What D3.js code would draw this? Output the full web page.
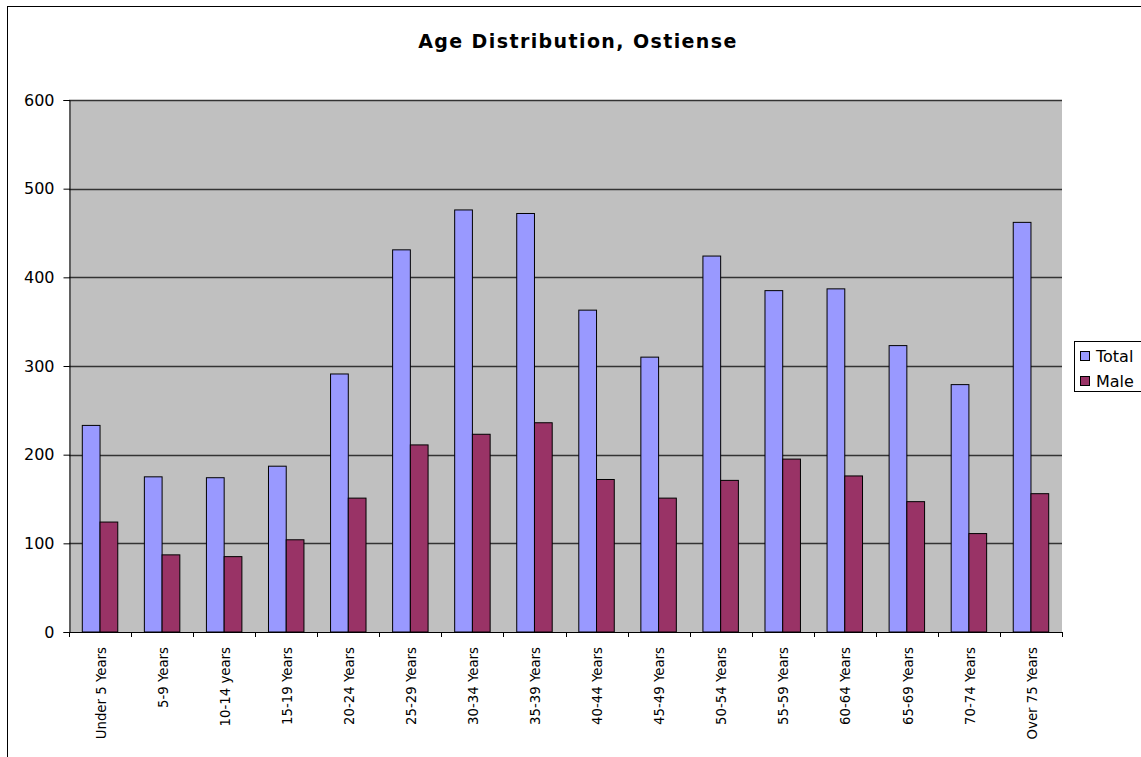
<!DOCTYPE html>
<html>
<head>
<meta charset="utf-8">
<script src="https://cdn.jsdelivr.net/npm/d3@7"></script>
<style>
  html, body { margin: 0; padding: 0; background: #ffffff; }
  svg { display: block; }
  text { font-family: "DejaVu Sans", Verdana, sans-serif; fill: #000; }
</style>
</head>
<body>
<svg id="chart" width="1141" height="757"></svg>
<script>
// Age groups and population counts
const categories = [
  "Under 5 Years", "5-9 Years", "10-14 years", "15-19 Years", "20-24 Years",
  "25-29 Years", "30-34 Years", "35-39 Years", "40-44 Years", "45-49 Years",
  "50-54 Years", "55-59 Years", "60-64 Years", "65-69 Years", "70-74 Years",
  "Over 75 Years"
];
const seriesNames = ["Total", "Male"];
const totalValues = [233, 175, 174, 187, 291, 431, 476, 472, 363, 310, 424, 385, 387, 323, 279, 462];
const maleValues  = [124, 87, 85, 104, 151, 211, 223, 236, 172, 151, 171, 195, 176, 147, 111, 156];
const yTicks = [0, 100, 200, 300, 400, 500, 600];
const seriesColors = ["#9999FF", "#993366"];

const svg = d3.select("#chart");
const W = 1141, H = 757;
const plot = { left: 69, top: 100, right: 1062, bottom: 632 };

// chart frame
svg.append("rect")
  .attr("x", 7.5).attr("y", 6.5)
  .attr("width", W + 20).attr("height", H + 20)
  .attr("fill", "#fff").attr("stroke", "#000").attr("stroke-width", 1);

// title
svg.append("text")
  .attr("x", 578).attr("y", 48)
  .attr("text-anchor", "middle")
  .attr("font-size", "19px")
  .attr("font-weight", "bold")
  .attr("letter-spacing", "1.4px")
  .text("Age Distribution, Ostiense");

const x = d3.scaleBand().domain(categories).range([plot.left, plot.right]).padding(0);
const xs = d3.scaleBand().domain(seriesNames).range([0, x.bandwidth()]).paddingInner(0).paddingOuter(0.75);
const y = d3.scaleLinear().domain([0, 600]).range([plot.bottom, plot.top]);

// plot background
svg.append("rect")
  .attr("x", plot.left).attr("y", plot.top)
  .attr("width", plot.right - plot.left).attr("height", plot.bottom - plot.top)
  .attr("fill", "#C0C0C0");

// horizontal gridlines
svg.append("g")
  .selectAll("line")
  .data(yTicks.filter(d => d > 0))
  .join("line")
  .attr("x1", plot.left).attr("x2", plot.right)
  .attr("y1", d => Math.round(y(d)) + 0.5).attr("y2", d => Math.round(y(d)) + 0.5)
  .attr("stroke", "#333333").attr("stroke-width", 1.3);

// bars
const rows = categories.map((c, i) => ({ cat: c, values: [totalValues[i], maleValues[i]] }));
const groups = svg.append("g")
  .selectAll("g")
  .data(rows)
  .join("g")
  .attr("transform", d => `translate(${x(d.cat)},0)`);

groups.selectAll("rect")
  .data(d => d.values.map((v, k) => ({ name: seriesNames[k], value: v, k })))
  .join("rect")
  .attr("x", d => xs(d.name))
  .attr("y", d => y(d.value))
  .attr("width", xs.bandwidth())
  .attr("height", d => y(0) - y(d.value))
  .attr("fill", d => seriesColors[d.k])
  .attr("stroke", "#000")
  .attr("stroke-width", 1);

// y axis
const yAxis = svg.append("g")
  .attr("transform", `translate(${plot.left + 0.5},0)`)
  .call(d3.axisLeft(y).tickValues(yTicks).tickSize(6).tickPadding(9).tickFormat(d3.format("d")));
yAxis.select(".domain").attr("stroke", "#000");
yAxis.selectAll(".tick line").attr("stroke", "#000");
yAxis.selectAll("text")
  .attr("font-size", "16px")
  .attr("font-family", "DejaVu Sans, Verdana, sans-serif")
  .attr("fill", "#000");

// x axis baseline and category boundary ticks
svg.append("line")
  .attr("x1", plot.left).attr("x2", plot.right)
  .attr("y1", plot.bottom + 0.5).attr("y2", plot.bottom + 0.5)
  .attr("stroke", "#000");

const boundaries = categories.map(c => x(c)).concat([x(categories[categories.length - 1]) + x.bandwidth()]);
svg.append("g")
  .selectAll("line")
  .data(boundaries)
  .join("line")
  .attr("x1", d => Math.round(d) + 0.5).attr("x2", d => Math.round(d) + 0.5)
  .attr("y1", plot.bottom).attr("y2", plot.bottom + 5)
  .attr("stroke", "#000");

// category labels, rotated
svg.append("g")
  .selectAll("text")
  .data(categories)
  .join("text")
  .attr("transform", d => `translate(${x(d) + x.bandwidth() / 2 + 1},${plot.bottom + 15}) rotate(-90)`)
  .attr("text-anchor", "end")
  .attr("dy", "0.35em")
  .attr("font-size", "13.3px")
  .text(d => d);

// legend
const legend = svg.append("g").attr("transform", "translate(1074,341)");
legend.append("rect")
  .attr("x", 0.5).attr("y", 0.5)
  .attr("width", 100).attr("height", 50)
  .attr("fill", "#fff").attr("stroke", "#000");
const item = legend.selectAll("g.item")
  .data(seriesNames)
  .join("g")
  .attr("class", "item")
  .attr("transform", (d, i) => `translate(6,${10 + i * 25})`);
item.append("rect")
  .attr("x", 0.5).attr("y", 0.5)
  .attr("width", 9).attr("height", 9)
  .attr("fill", (d, i) => seriesColors[i])
  .attr("stroke", "#000");
item.append("text")
  .attr("x", 16).attr("y", 5)
  .attr("dy", "0.35em")
  .attr("font-size", "16px")
  .text(d => d);
</script>
</body>
</html>
